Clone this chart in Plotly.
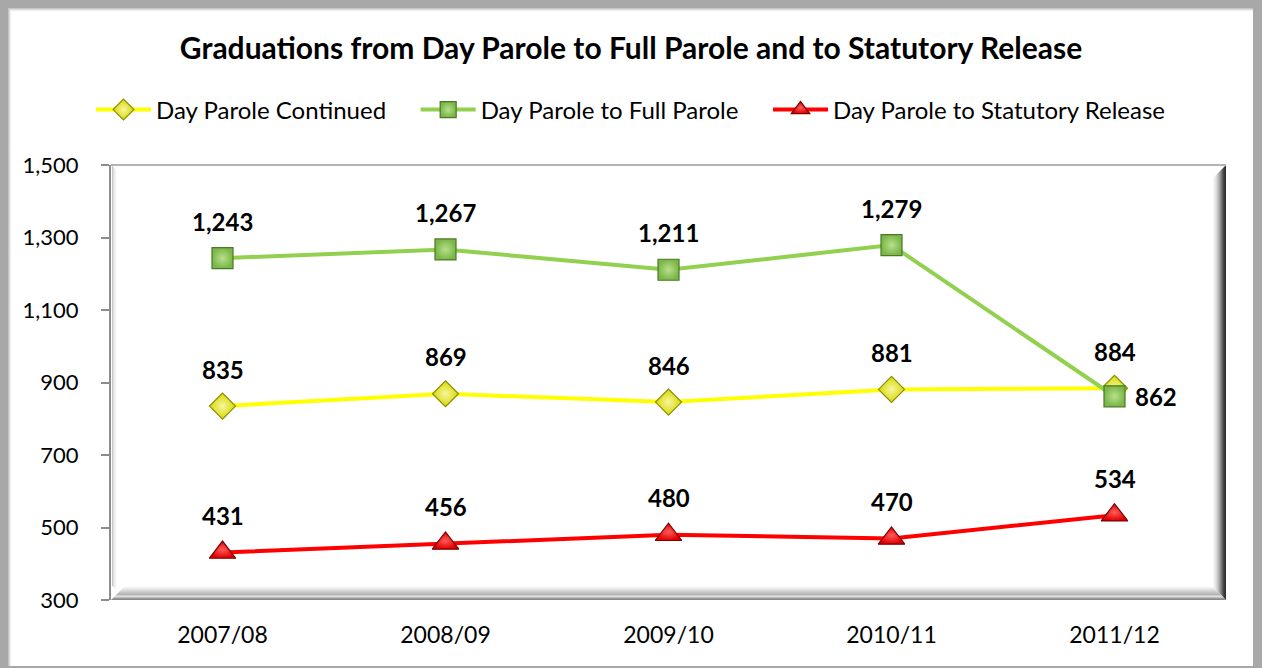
import plotly.graph_objects as go

# ---------------- data ----------------
years = ["2007/08", "2008/09", "2009/10", "2010/11", "2011/12"]
day_parole_continued = [835, 869, 846, 881, 884]
day_parole_to_full = [1243, 1267, 1211, 1279, 862]
day_parole_to_statutory = [431, 456, 480, 470, 534]
y_ticks = [300, 500, 700, 900, 1100, 1300, 1500]

title_text = "Graduations from Day Parole to Full Parole and to Statutory Release"
FONT = "Lato"

W, H = 1262, 668
L, R, T, B = 111, 36, 165, 68
PW, PH = W - L - R, H - T - B


def px(xp):
    return (xp - L) / PW


def py(yp):
    return (H - B - yp) / PH


fig = go.Figure()

NB = "\u00a0" * 4
series = [
    ("Day Parole Continued", day_parole_continued, "#ffff00", "diamond", 20, "#d8d800", "#8c8c00", "#f6f6a0"),
    ("Day Parole to Full Parole", day_parole_to_full, "#92d050", "square", 21, "#7ab648", "#4a7a24", "#b8e08a"),
    ("Day Parole to Statutory Release", day_parole_to_statutory, "#ff0000", "triangle-up", 23, "#e00000", "#7a0000", "#ff5a5a"),
]

for idx, (name, vals, lc, sym, size, mc, mlc, gc) in enumerate(series):
    fig.add_trace(go.Scatter(
        x=years, y=vals, name=name + (NB if idx < 2 else ""), mode="lines+markers",
        line=dict(color=lc, width=4),
        marker=dict(symbol=sym, size=size, color=mc,
                    line=dict(color=mlc, width=1.2),
                    gradient=dict(type="radial", color=gc)),
        hoverinfo="skip",
    ))

# data labels
for name, vals, *_ in series:
    for i, (xv, yv) in enumerate(zip(years, vals)):
        if name == "Day Parole to Full Parole" and i == len(vals) - 1:
            fig.add_annotation(x=xv, y=yv, text=f"{yv:,}", showarrow=False,
                               xanchor="left", xshift=18, yshift=0,
                               font=dict(family=FONT, size=24, color="#000000", weight="bold"))
        else:
            fig.add_annotation(x=xv, y=yv, text=f"{yv:,}", showarrow=False,
                               yshift=37,
                               font=dict(family=FONT, size=24, color="#000000", weight="bold"))

shapes = []
# outer grey frame / white chart area
shapes.append(dict(type="rect", xref="paper", yref="paper", layer="below",
                   x0=px(8), x1=px(1253), y0=py(666), y1=py(8),
                   fillcolor="#ffffff", line=dict(width=0)))
# soft inner edge of the outer frame (top / left)
for k, c in enumerate(["#c4c4c4", "#dcdcdc", "#eeeeee"]):
    shapes.append(dict(type="rect", xref="paper", yref="paper", layer="below",
                       x0=px(8 + k), x1=px(9 + k), y0=py(666), y1=py(8 + k),
                       fillcolor=c, line=dict(width=0)))
    shapes.append(dict(type="rect", xref="paper", yref="paper", layer="below",
                       x0=px(8 + k), x1=px(1253), y0=py(9 + k), y1=py(8 + k),
                       fillcolor=c, line=dict(width=0)))

# plot area bevel: right edge dark gradient
right_cols = ["#f6f6f6", "#eeeeee", "#e4e4e4", "#d8d8d8", "#cacaca", "#b8b8b8",
              "#a4a4a4", "#8e8e8e", "#767676", "#5e5e5e", "#484848", "#383838", "#303030"]
n = len(right_cols)
x_right = 1226
y_top, y_bot = 165, 600
for k, c in enumerate(right_cols):
    x0 = x_right - (n - k)
    x1 = x0 + 1
    d = n - k
    shapes.append(dict(type="path", xref="paper", yref="paper", layer="below",
                       path=f"M {px(x0)},{py(y_top + d)} L {px(x1)},{py(y_top + d - 1)} "
                            f"L {px(x1)},{py(y_bot - d + 1)} L {px(x0)},{py(y_bot - d)} Z",
                       fillcolor=c, line=dict(width=0)))
# bottom bevel gradient
bot_cols = ["#fbfbfb", "#f4f4f4", "#ececec", "#e2e2e2", "#d8d8d8", "#cecece", "#c4c4c4",
            "#bcbcbc", "#b4b4b4", "#cfcfcf", "#e0e0e0", "#bdbdbd", "#9a9a9a", "#8a8a8a"]
nb = len(bot_cols)
x_left = 111
for k, c in enumerate(bot_cols):
    d = nb - k
    y0 = y_bot - d
    y1 = y0 + 1
    shapes.append(dict(type="path", xref="paper", yref="paper", layer="below",
                       path=f"M {px(x_left + d)},{py(y0)} L {px(x_right - d)},{py(y0)} "
                            f"L {px(x_right - d + 1)},{py(y1)} L {px(x_left + d - 1)},{py(y1)} Z",
                       fillcolor=c, line=dict(width=0)))
# left inner shadow
left_cols = ["#c8c8c8", "#dedede", "#ececec", "#f5f5f5", "#fafafa"]
for k, c in enumerate(left_cols):
    x0 = x_left + 1 + k
    shapes.append(dict(type="rect", xref="paper", yref="paper", layer="below",
                       x0=px(x0), x1=px(x0 + 1), y0=py(y_bot - nb + k), y1=py(y_top + 1 + k),
                       fillcolor=c, line=dict(width=0)))
# top line
shapes.append(dict(type="line", xref="paper", yref="paper", layer="below",
                   x0=px(x_left), x1=px(x_right), y0=py(y_top), y1=py(y_top),
                   line=dict(color="#b4b4b4", width=2)))

fig.update_layout(
    width=W, height=H,
    margin=dict(l=L, r=R, t=T, b=B),
    paper_bgcolor="#a8a8a8",
    plot_bgcolor="rgba(255,255,255,0)",
    shapes=shapes,
    title=dict(text=title_text, x=0.5, xref="container", xanchor="center",
               y=1 - 48 / H, yref="container", yanchor="middle",
               font=dict(family=FONT, size=30, color="#000000", weight="bold")),
    legend=dict(orientation="h", x=0.5, xref="container", xanchor="center",
                y=1 - 110 / H, yref="container", yanchor="middle",
                font=dict(family=FONT, size=24, color="#000000"),
                itemwidth=55, bgcolor="rgba(0,0,0,0)", tracegroupgap=0),
    showlegend=True,
    hovermode=False,
    xaxis=dict(type="category", range=[-0.5, 4.5], showgrid=False, zeroline=False,
               showline=False, ticks="", tickfont=dict(family=FONT, size=23, color="#000000"),
               ticklabelstandoff=19),
    yaxis=dict(range=[300, 1500], tickvals=y_ticks, tickformat=",", showgrid=False,
               zeroline=False, showline=True, linecolor="#8c8c8c", linewidth=2,
               ticks="outside", ticklen=8, tickcolor="#8c8c8c", tickwidth=2,
               tickfont=dict(family=FONT, size=22, color="#000000"), ticklabelstandoff=18),
)

fig.write_html("out.html", config={"displayModeBar": False},
               post_script="document.body.style.margin='0px';")
